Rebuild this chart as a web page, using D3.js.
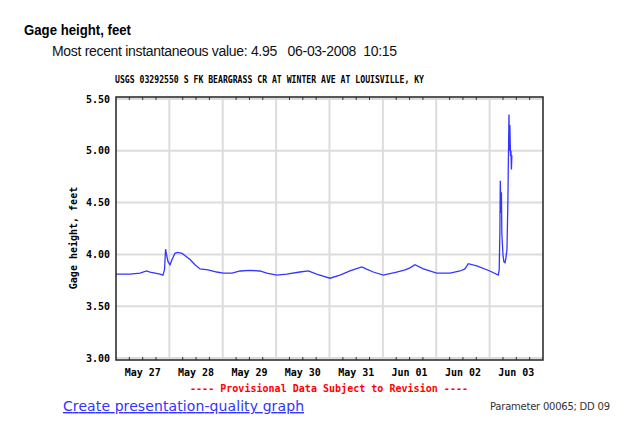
<!DOCTYPE html>
<html lang="en">
    <head>
        <meta charset="utf-8"/>
        <script src="https://d3js.org/d3.v7.min.js"></script>
        <style>
            body { margin: 0; background: #fff; }
        </style>
    </head>
    <body>
        <div id="chart"></div>
    </body>
    <script>
        // hours since 2008-05-27 00:00, and gage height in feet
        var hours = [0, 6.3, 10.8, 13.8, 15.3, 19.8, 21.1, 21.8, 22.3, 22.7, 23.4, 24.3, 25.2, 26.5, 27.6,
            29.7, 33.3, 35.5, 37.8, 41.4, 45.3, 48.2, 52.2, 55.8, 60.2, 64.7, 67.8, 72.3, 76.7, 82.7,
            86.5, 90.2, 93.1, 96.2, 100.7, 105.2, 110.5, 112.4, 115.7, 120.2, 126.2, 130.0, 132.2, 134.4,
            138.2, 144.2, 150.2, 154.7, 156.9, 158.4, 162.2, 168.1, 171.9, 172.3, 172.6, 172.8, 173.1,
            173.3, 173.5, 174.0, 174.4, 174.9, 175.3, 175.8, 176.2, 176.7, 176.9, 177.1, 177.4, 177.6,
            177.8, 178.0, 178.25];
        var gage = [3.81, 3.81, 3.82, 3.84, 3.83, 3.81, 3.80, 3.85, 4.05, 4.00, 3.93, 3.90, 3.95, 4.01, 4.02,
            4.01, 3.95, 3.90, 3.86, 3.85, 3.83, 3.82, 3.82, 3.84, 3.845, 3.84, 3.82, 3.80, 3.81, 3.83,
            3.84, 3.81, 3.79, 3.77, 3.80, 3.84, 3.88, 3.86, 3.83, 3.80, 3.83, 3.85, 3.87, 3.90,
            3.86, 3.82, 3.82, 3.84, 3.86, 3.91, 3.89, 3.84, 3.80, 3.85, 4.20, 4.71, 4.40,
            4.60, 4.20, 4.00, 3.93, 3.92, 3.96, 4.05, 4.50, 5.35, 5.00, 5.25, 4.95, 5.00,
            4.82, 4.95, 4.95];
        var dayLabels = ["May 27", "May 28", "May 29", "May 30", "May 31", "Jun 01", "Jun 02", "Jun 03"];
        var yTicks = [3.00, 3.50, 4.00, 4.50, 5.00, 5.50];

        var start = new Date(2008, 4, 27);
        var end = new Date(2008, 5, 4);
        var data = hours.map(function (h, i) {
            return { t: new Date(start.getTime() + h * 3600e3), v: gage[i] };
        });

        var svg = d3.select("#chart")
            .append("svg")
                .attr("width", 640)
                .attr("height", 425);

        var mono = "'DejaVu Sans Mono', 'Liberation Mono', monospace";
        var sans = "'Liberation Sans', Arial, sans-serif";

        // page headings
        svg.append("text")
            .attr("x", 24).attr("y", 35)
            .style("font-family", sans).style("font-weight", "bold").style("font-size", "15px")
            .attr("textLength", 107)
            .attr("lengthAdjust", "spacingAndGlyphs")
            .attr("fill", "#000")
            .text("Gage height, feet");

        svg.append("text")
            .attr("x", 52).attr("y", 56)
            .style("font-family", sans).style("font-size", "14px")
            .attr("textLength", 345)
            .attr("fill", "#111")
            .attr("xml:space", "preserve")
            .text("Most recent instantaneous value: 4.95   06-03-2008  10:15");

        svg.append("text")
            .attr("x", 115).attr("y", 83)
            .style("font-family", mono).style("font-weight", "bold").style("font-size", "10px")
            .attr("textLength", 309)
            .attr("lengthAdjust", "spacingAndGlyphs")
            .text("USGS 03292550 S FK BEARGRASS CR AT WINTER AVE AT LOUISVILLE, KY");

        // plot area
        var pLeft = 116, pRight = 543, pTop = 97, pBottom = 360;

        var x = d3.scaleTime()
            .domain([start, end])
            .range([pLeft, pRight]);

        var y = d3.scaleLinear()
            .domain([3.0, 5.5])
            .range([358, 99]);

        var days = d3.timeDay.range(start, end);
        var sixHours = d3.timeHour.every(6).range(start, end)
            .filter(function (d) { return d.getHours() !== 0; });

        // grid
        svg.append("g")
            .selectAll("line")
            .data(yTicks)
            .enter()
            .append("line")
                .attr("x1", pLeft).attr("x2", pRight)
                .attr("y1", function (d) { return y(d); })
                .attr("y2", function (d) { return y(d); })
                .attr("stroke", "#dcdcdc")
                .attr("stroke-width", 2);

        svg.append("g")
            .selectAll("line")
            .data(days.slice(1))
            .enter()
            .append("line")
                .attr("x1", function (d) { return x(d); })
                .attr("x2", function (d) { return x(d); })
                .attr("y1", pTop).attr("y2", pBottom)
                .attr("stroke", "#dcdcdc")
                .attr("stroke-width", 2);

        // minor ticks top and bottom
        var ticks = svg.append("g");
        ticks.selectAll(".tb")
            .data(sixHours)
            .enter()
            .append("line")
                .attr("x1", function (d) { return x(d); })
                .attr("x2", function (d) { return x(d); })
                .attr("y1", pBottom).attr("y2", pBottom - 3)
                .attr("stroke", "#333");
        ticks.selectAll(".tt")
            .data(sixHours)
            .enter()
            .append("line")
                .attr("x1", function (d) { return x(d); })
                .attr("x2", function (d) { return x(d); })
                .attr("y1", pTop).attr("y2", pTop + 3)
                .attr("stroke", "#333");

        // line
        var line = d3.line()
            .x(function (d) { return x(d.t); })
            .y(function (d) { return y(d.v); });

        svg.append("path")
            .datum(data)
            .attr("d", line)
            .attr("fill", "none")
            .attr("stroke", "#3535ff")
            .attr("stroke-width", 1.3);

        // frame
        svg.append("rect")
            .attr("x", pLeft).attr("y", pTop)
            .attr("width", pRight - pLeft).attr("height", pBottom - pTop)
            .attr("fill", "none")
            .attr("stroke", "#222")
            .attr("stroke-width", 1.5);

        // y tick labels
        svg.append("g")
            .selectAll("text")
            .data(yTicks)
            .enter()
            .append("text")
                .attr("x", 110)
                .attr("y", function (d) { return y(d) + 3.5; })
                .attr("text-anchor", "end")
                .style("font-family", mono).style("font-weight", "bold").style("font-size", "10px")
                .text(function (d) { return d.toFixed(2); });

        // x day labels, centered at noon
        svg.append("g")
            .selectAll("text")
            .data(days)
            .enter()
            .append("text")
                .attr("x", function (d) { return x(d3.timeHour.offset(d, 12)); })
                .attr("y", 376)
                .attr("text-anchor", "middle")
                .style("font-family", mono).style("font-weight", "bold").style("font-size", "10px")
                .text(function (d, i) { return dayLabels[i]; });

        // y axis title
        svg.append("text")
            .attr("transform", "translate(77,238) rotate(-90)")
            .attr("text-anchor", "middle")
            .style("font-family", mono).style("font-weight", "bold").style("font-size", "10px")
            .text("Gage height, feet");

        svg.append("text")
            .attr("x", 190).attr("y", 392)
            .style("font-family", mono).style("font-weight", "bold").style("font-size", "10px")
            .attr("textLength", 278)
            .attr("fill", "#ff0000")
            .text("---- Provisional Data Subject to Revision ----");

        svg.append("text")
            .attr("x", 63).attr("y", 411)
            .style("font-family", "'DejaVu Sans', sans-serif").style("font-size", "14px")
            .attr("textLength", 241)
            .attr("fill", "#3333ff")
            .style("text-decoration", "underline")
            .text("Create presentation-quality graph");

        svg.append("text")
            .attr("x", 490).attr("y", 410)
            .style("font-family", "'DejaVu Sans', sans-serif").style("font-size", "10px")
            .attr("textLength", 120)
            .attr("fill", "#333")
            .text("Parameter 00065; DD 09");
    </script>
</html>
